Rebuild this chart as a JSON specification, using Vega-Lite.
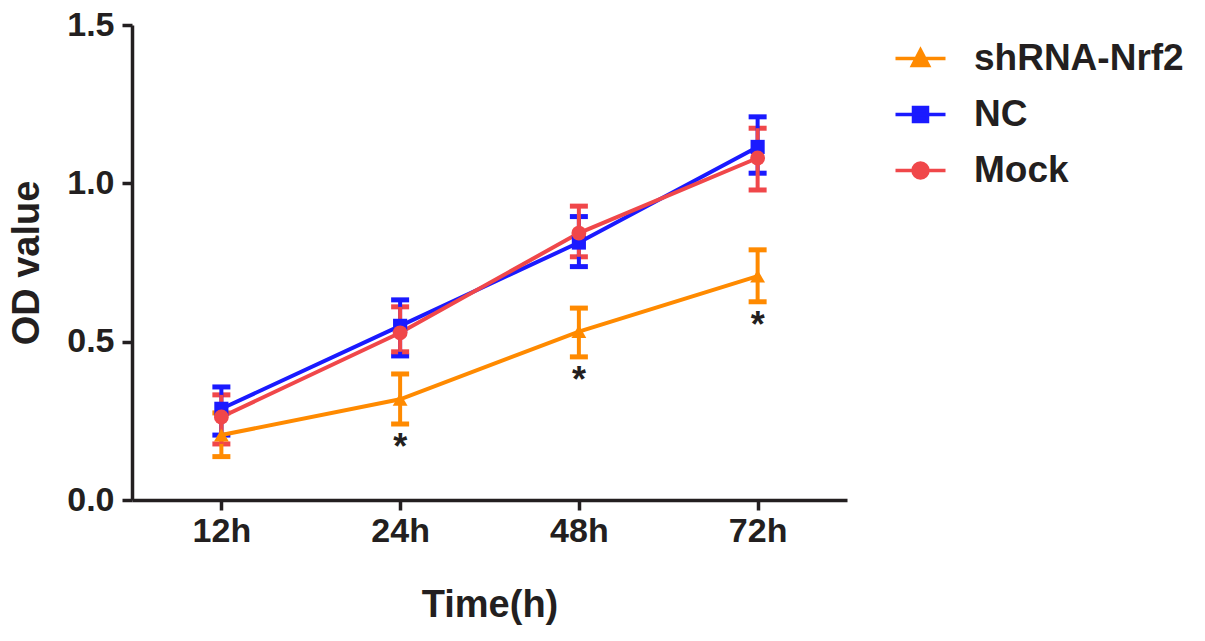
{
  "$schema": "https://vega.github.io/schema/vega-lite/v6.json",
  "width": 715,
  "height": 475,
  "autosize": {"type": "none"},
  "padding": {"left": 132, "top": 25, "right": 358, "bottom": 141},
  "background": "white",
  "config": {
    "view": {"stroke": null},
    "font": "Liberation Sans",
    "axis": {
      "domainColor": "#231f20",
      "domainWidth": 3.5,
      "tickColor": "#231f20",
      "tickWidth": 3.5,
      "tickSize": 10,
      "labelFont": "Liberation Sans",
      "labelFontWeight": "bold",
      "labelColor": "#231f20",
      "titleFont": "Liberation Sans",
      "titleFontWeight": "bold",
      "titleColor": "#231f20",
      "grid": false
    },
    "legend": {
      "orient": "none",
      "legendX": 770,
      "legendY": 15,
      "labelFontSize": 37,
      "labelFont": "Liberation Sans",
      "labelFontWeight": "bold",
      "labelColor": "#231f20",
      "labelLimit": 400,
      "labelOffset": 35,
      "rowPadding": 18,
      "symbolSize": 400,
      "symbolStrokeWidth": 3.5,
      "symbolOpacity": 1
    }
  },
  "data": {
    "values": [
      {"group": "shRNA-Nrf2", "time": "12h", "od": 0.205, "lo": 0.137, "hi": 0.275},
      {"group": "shRNA-Nrf2", "time": "24h", "od": 0.318, "lo": 0.24, "hi": 0.398},
      {"group": "shRNA-Nrf2", "time": "48h", "od": 0.532, "lo": 0.452, "hi": 0.606},
      {"group": "shRNA-Nrf2", "time": "72h", "od": 0.707, "lo": 0.626, "hi": 0.79},
      {"group": "NC", "time": "12h", "od": 0.288, "lo": 0.205, "hi": 0.357},
      {"group": "NC", "time": "24h", "od": 0.55, "lo": 0.455, "hi": 0.632},
      {"group": "NC", "time": "48h", "od": 0.813, "lo": 0.737, "hi": 0.895},
      {"group": "NC", "time": "72h", "od": 1.115, "lo": 1.032, "hi": 1.21},
      {"group": "Mock", "time": "12h", "od": 0.262, "lo": 0.177, "hi": 0.332},
      {"group": "Mock", "time": "24h", "od": 0.528, "lo": 0.468, "hi": 0.61},
      {"group": "Mock", "time": "48h", "od": 0.843, "lo": 0.768, "hi": 0.928},
      {"group": "Mock", "time": "72h", "od": 1.08, "lo": 0.979, "hi": 1.174}
    ]
  },
  "encoding": {
    "x": {
      "field": "time",
      "type": "ordinal",
      "scale": {"type": "point", "padding": 0.5},
      "sort": ["12h", "24h", "48h", "72h"],
      "axis": {"labelAngle": 0, "labelFontSize": 34, "labelPadding": 4, "title": "Time(h)", "titleFontSize": 38, "titlePadding": 38}
    }
  },
  "layer": [
    {
      "mark": {"type": "errorbar", "ticks": {"size": 18, "thickness": 5, "opacity": 1}, "rule": {"strokeWidth": 4, "opacity": 1}},
      "encoding": {
        "y": {
          "field": "lo",
          "type": "quantitative",
          "scale": {"domain": [0, 1.5], "nice": false},
          "axis": {"values": [0, 0.5, 1.0, 1.5], "format": ".1f", "labelFontSize": 34, "labelPadding": 8, "title": "OD value", "titleFontSize": 38, "titlePadding": 20}
        },
        "y2": {"field": "hi"},
        "color": {
          "field": "group",
          "type": "nominal",
          "title": null,
          "scale": {"domain": ["shRNA-Nrf2", "NC", "Mock"], "range": ["#FF8A00", "#1A1AFF", "#F0474A"]}
        }
      }
    },
    {
      "mark": {"type": "line", "strokeWidth": 4},
      "encoding": {
        "y": {"field": "od", "type": "quantitative", "title": "OD value"},
        "color": {"field": "group", "type": "nominal", "title": null}
      }
    },
    {
      "transform": [{"filter": "datum.group == 'shRNA-Nrf2'"}],
      "mark": {"type": "point", "shape": "triangle-up", "filled": true, "opacity": 1, "size": 220},
      "encoding": {
        "y": {"field": "od", "type": "quantitative", "title": "OD value"},
        "color": {"field": "group", "type": "nominal", "title": null}
      }
    },
    {
      "transform": [{"filter": "datum.group == 'NC'"}],
      "mark": {"type": "point", "shape": "square", "filled": true, "opacity": 1, "size": 200},
      "encoding": {
        "y": {"field": "od", "type": "quantitative", "title": "OD value"},
        "color": {"field": "group", "type": "nominal", "title": null}
      }
    },
    {
      "transform": [{"filter": "datum.group == 'Mock'"}],
      "mark": {"type": "point", "shape": "circle", "filled": true, "opacity": 1, "size": 220},
      "encoding": {
        "y": {"field": "od", "type": "quantitative", "title": "OD value"},
        "color": {"field": "group", "type": "nominal", "title": null}
      }
    },
    {
      "transform": [{"filter": "datum.group == 'none'"}],
      "mark": {"type": "point", "filled": true, "opacity": 1, "strokeWidth": 3.5},
      "encoding": {
        "y": {"field": "od", "type": "quantitative", "title": "OD value"},
        "color": {"field": "group", "type": "nominal", "title": null},
        "stroke": {
          "field": "group",
          "type": "nominal",
          "title": null,
          "scale": {"domain": ["shRNA-Nrf2", "NC", "Mock"], "range": ["#FF8A00", "#1A1AFF", "#F0474A"]}
        },
        "shape": {
          "field": "group",
          "type": "nominal",
          "title": null,
          "scale": {
            "domain": ["shRNA-Nrf2", "NC", "Mock"],
            "range": [
              "M-2.5,0H2.5M0,-0.85L0.8,0.7L-0.8,0.7Z",
              "M-2.5,0H2.5M-0.7,-0.7H0.7V0.7H-0.7Z",
              "M-2.5,0H2.5M0.75,0A0.75,0.75,0,1,1,-0.75,0A0.75,0.75,0,1,1,0.75,0Z"
            ]
          }
        }
      }
    },
    {
      "transform": [{"filter": "datum.group == 'shRNA-Nrf2' && datum.time != '12h'"}],
      "mark": {"type": "text", "text": "*", "fontSize": 36, "fontWeight": "bold", "font": "Liberation Sans", "baseline": "alphabetic", "dy": 35, "color": "#231f20"},
      "encoding": {
        "y": {"field": "lo", "type": "quantitative", "title": "OD value"}
      }
    }
  ]
}
